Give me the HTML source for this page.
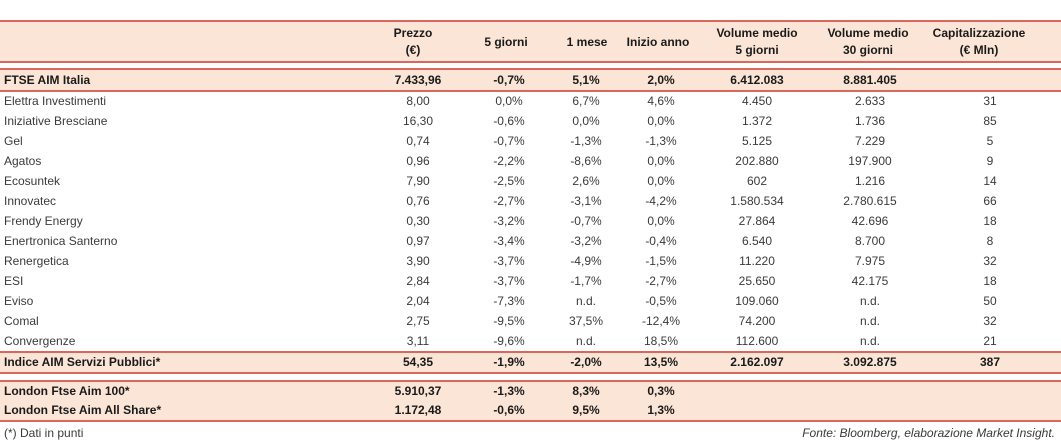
<!DOCTYPE html>
<html><head><meta charset="utf-8"><style>
body{margin:0;width:1061px;height:443px;background:#fff;position:relative;overflow:hidden;font-family:"Liberation Sans","DejaVu Sans",sans-serif;font-size:12px;color:#3a3a3a}
.band{position:absolute;left:0;width:1061px;background:#fbe5d6}
.ln{position:absolute;left:0;width:1061px;height:2px;background:#d9675c}
.row{position:absolute;left:0;width:1061px;height:20px;line-height:20px}
.row span{position:absolute;top:0;white-space:nowrap}
.row span.n{left:4px}
.c{width:120px;text-align:center;margin-left:-60px}
.b{font-weight:bold;color:#1a1a1a}
.h{position:absolute;text-align:center;font-weight:bold;color:#1a1a1a;line-height:17px;width:140px;margin-left:-70px}
</style></head><body>
<div class="band" style="top:21px;height:41px"></div>
<div class="ln" style="top:20px"></div>
<div class="ln" style="top:61px"></div>
<div class="h" style="left:413px;top:25px">Prezzo<br>(€)</div>
<div class="h" style="left:506px;top:34px">5 giorni</div>
<div class="h" style="left:587px;top:34px">1 mese</div>
<div class="h" style="left:658px;top:34px">Inizio anno</div>
<div class="h" style="left:757px;top:25px">Volume medio<br>5 giorni</div>
<div class="h" style="left:868px;top:25px">Volume medio<br>30 giorni</div>
<div class="h" style="left:979px;top:25px">Capitalizzazione<br>(€ Mln)</div>

<div class="band" style="top:69px;height:22px"></div>
<div class="ln" style="top:68px"></div>
<div class="ln" style="top:90px"></div>
<div class="row b" style="top:70px"><span class="n">FTSE AIM Italia</span><span class="c" style="left:418px">7.433,96</span><span class="c" style="left:509px">-0,7%</span><span class="c" style="left:586px">5,1%</span><span class="c" style="left:661px">2,0%</span><span class="c" style="left:757px">6.412.083</span><span class="c" style="left:870px">8.881.405</span></div>

<div class="row" style="top:91px"><span class="n">Elettra Investimenti</span><span class="c" style="left:418px">8,00</span><span class="c" style="left:509px">0,0%</span><span class="c" style="left:586px">6,7%</span><span class="c" style="left:661px">4,6%</span><span class="c" style="left:757px">4.450</span><span class="c" style="left:870px">2.633</span><span class="c" style="left:990px">31</span></div>
<div class="row" style="top:111px"><span class="n">Iniziative Bresciane</span><span class="c" style="left:418px">16,30</span><span class="c" style="left:509px">-0,6%</span><span class="c" style="left:586px">0,0%</span><span class="c" style="left:661px">0,0%</span><span class="c" style="left:757px">1.372</span><span class="c" style="left:870px">1.736</span><span class="c" style="left:990px">85</span></div>
<div class="row" style="top:131px"><span class="n">Gel</span><span class="c" style="left:418px">0,74</span><span class="c" style="left:509px">-0,7%</span><span class="c" style="left:586px">-1,3%</span><span class="c" style="left:661px">-1,3%</span><span class="c" style="left:757px">5.125</span><span class="c" style="left:870px">7.229</span><span class="c" style="left:990px">5</span></div>
<div class="row" style="top:151px"><span class="n">Agatos</span><span class="c" style="left:418px">0,96</span><span class="c" style="left:509px">-2,2%</span><span class="c" style="left:586px">-8,6%</span><span class="c" style="left:661px">0,0%</span><span class="c" style="left:757px">202.880</span><span class="c" style="left:870px">197.900</span><span class="c" style="left:990px">9</span></div>
<div class="row" style="top:171px"><span class="n">Ecosuntek</span><span class="c" style="left:418px">7,90</span><span class="c" style="left:509px">-2,5%</span><span class="c" style="left:586px">2,6%</span><span class="c" style="left:661px">0,0%</span><span class="c" style="left:757px">602</span><span class="c" style="left:870px">1.216</span><span class="c" style="left:990px">14</span></div>
<div class="row" style="top:191px"><span class="n">Innovatec</span><span class="c" style="left:418px">0,76</span><span class="c" style="left:509px">-2,7%</span><span class="c" style="left:586px">-3,1%</span><span class="c" style="left:661px">-4,2%</span><span class="c" style="left:757px">1.580.534</span><span class="c" style="left:870px">2.780.615</span><span class="c" style="left:990px">66</span></div>
<div class="row" style="top:211px"><span class="n">Frendy Energy</span><span class="c" style="left:418px">0,30</span><span class="c" style="left:509px">-3,2%</span><span class="c" style="left:586px">-0,7%</span><span class="c" style="left:661px">0,0%</span><span class="c" style="left:757px">27.864</span><span class="c" style="left:870px">42.696</span><span class="c" style="left:990px">18</span></div>
<div class="row" style="top:231px"><span class="n">Enertronica Santerno</span><span class="c" style="left:418px">0,97</span><span class="c" style="left:509px">-3,4%</span><span class="c" style="left:586px">-3,2%</span><span class="c" style="left:661px">-0,4%</span><span class="c" style="left:757px">6.540</span><span class="c" style="left:870px">8.700</span><span class="c" style="left:990px">8</span></div>
<div class="row" style="top:251px"><span class="n">Renergetica</span><span class="c" style="left:418px">3,90</span><span class="c" style="left:509px">-3,7%</span><span class="c" style="left:586px">-4,9%</span><span class="c" style="left:661px">-1,5%</span><span class="c" style="left:757px">11.220</span><span class="c" style="left:870px">7.975</span><span class="c" style="left:990px">32</span></div>
<div class="row" style="top:271px"><span class="n">ESI</span><span class="c" style="left:418px">2,84</span><span class="c" style="left:509px">-3,7%</span><span class="c" style="left:586px">-1,7%</span><span class="c" style="left:661px">-2,7%</span><span class="c" style="left:757px">25.650</span><span class="c" style="left:870px">42.175</span><span class="c" style="left:990px">18</span></div>
<div class="row" style="top:291px"><span class="n">Eviso</span><span class="c" style="left:418px">2,04</span><span class="c" style="left:509px">-7,3%</span><span class="c" style="left:586px">n.d.</span><span class="c" style="left:661px">-0,5%</span><span class="c" style="left:757px">109.060</span><span class="c" style="left:870px">n.d.</span><span class="c" style="left:990px">50</span></div>
<div class="row" style="top:311px"><span class="n">Comal</span><span class="c" style="left:418px">2,75</span><span class="c" style="left:509px">-9,5%</span><span class="c" style="left:586px">37,5%</span><span class="c" style="left:661px">-12,4%</span><span class="c" style="left:757px">74.200</span><span class="c" style="left:870px">n.d.</span><span class="c" style="left:990px">32</span></div>
<div class="row" style="top:331px"><span class="n">Convergenze</span><span class="c" style="left:418px">3,11</span><span class="c" style="left:509px">-9,6%</span><span class="c" style="left:586px">n.d.</span><span class="c" style="left:661px">18,5%</span><span class="c" style="left:757px">112.600</span><span class="c" style="left:870px">n.d.</span><span class="c" style="left:990px">21</span></div>

<div class="band" style="top:352px;height:21px"></div>
<div class="ln" style="top:351px"></div>
<div class="ln" style="top:372px"></div>
<div class="row b" style="top:352px"><span class="n">Indice AIM Servizi Pubblici*</span><span class="c" style="left:418px">54,35</span><span class="c" style="left:509px">-1,9%</span><span class="c" style="left:586px">-2,0%</span><span class="c" style="left:661px">13,5%</span><span class="c" style="left:757px">2.162.097</span><span class="c" style="left:870px">3.092.875</span><span class="c" style="left:990px">387</span></div>

<div class="band" style="top:381px;height:40px"></div>
<div class="ln" style="top:380px"></div>
<div class="ln" style="top:420px"></div>
<div class="row b" style="top:381px"><span class="n">London Ftse Aim 100*</span><span class="c" style="left:418px">5.910,37</span><span class="c" style="left:509px">-1,3%</span><span class="c" style="left:586px">8,3%</span><span class="c" style="left:661px">0,3%</span></div>
<div class="row b" style="top:400px"><span class="n">London Ftse Aim All Share*</span><span class="c" style="left:418px">1.172,48</span><span class="c" style="left:509px">-0,6%</span><span class="c" style="left:586px">9,5%</span><span class="c" style="left:661px">1,3%</span></div>

<div style="position:absolute;left:4px;top:424px;line-height:18px">(*) Dati in punti</div>
<div style="position:absolute;right:6px;top:424px;line-height:18px;font-style:italic">Fonte: Bloomberg, elaborazione Market Insight.</div>
</body></html>
